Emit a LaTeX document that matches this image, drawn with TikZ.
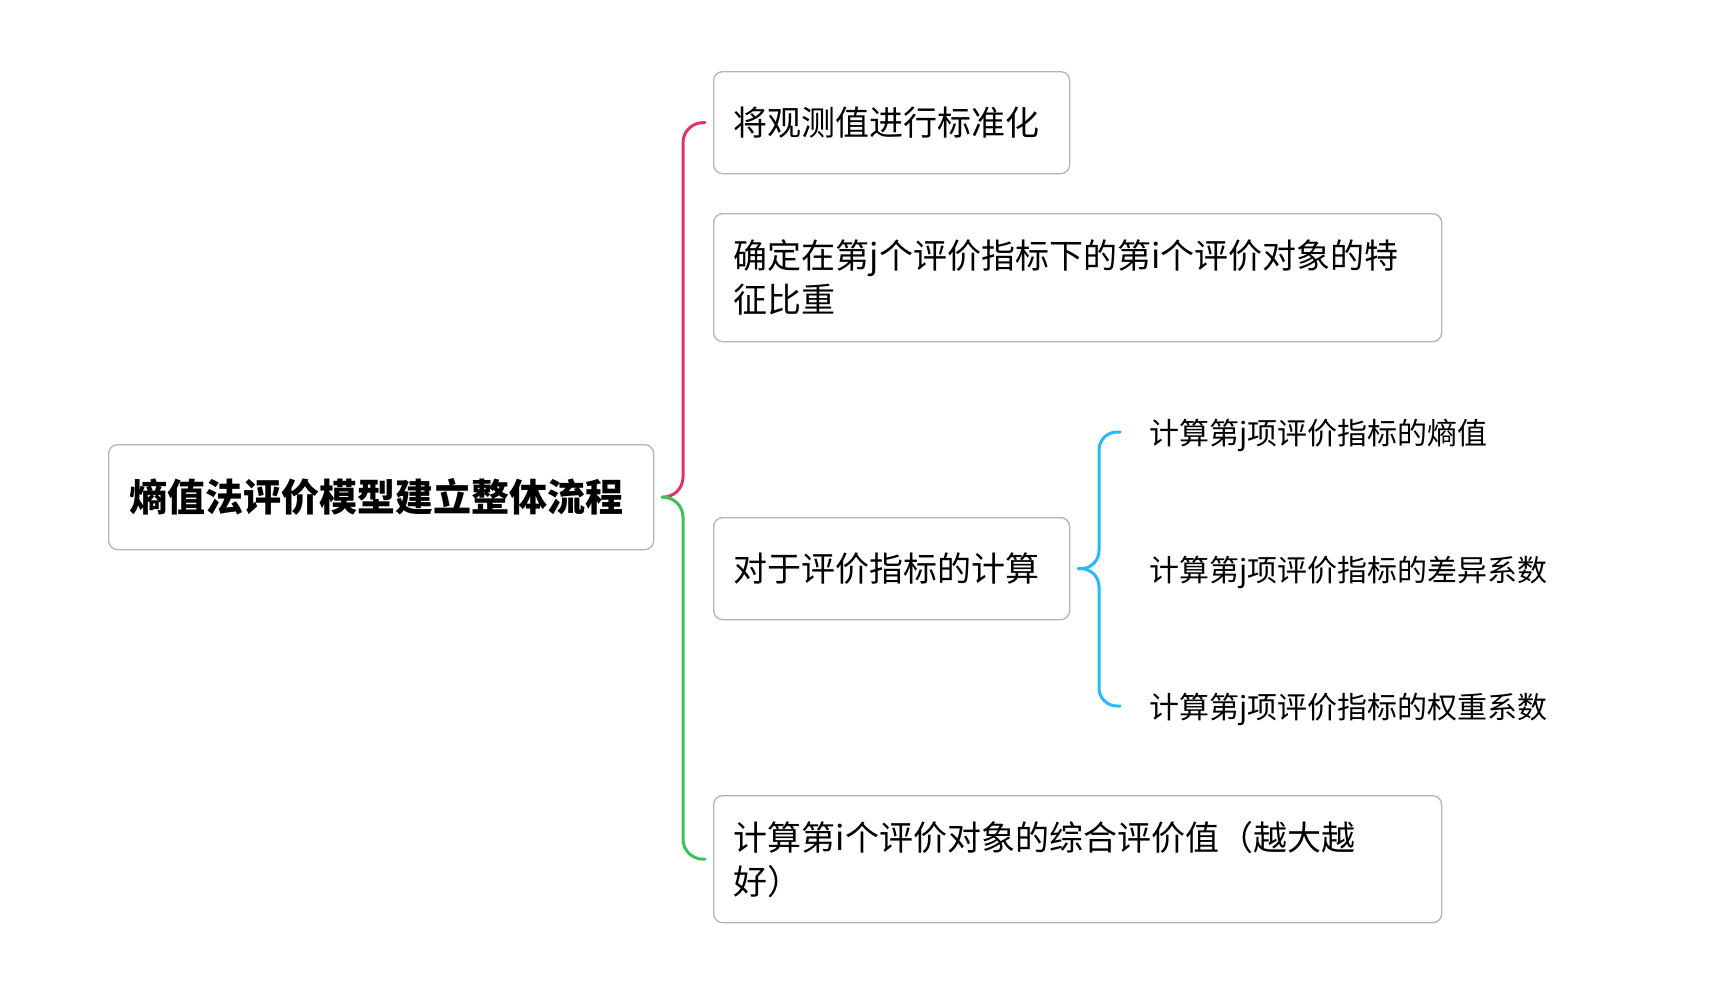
\documentclass[tikz,border=0pt]{standalone}
\usepackage{fontspec}
\usetikzlibrary{calc}
\newfontfamily\cjk{Noto Sans CJK SC}
\definecolor{pinkc}{RGB}{221,52,110}
\definecolor{greenc}{RGB}{58,196,88}
\definecolor{bluec}{RGB}{40,186,245}
\definecolor{boxc}{RGB}{180,180,180}
\tikzset{
  box/.style={draw=boxc, line width=1.3pt, rounded corners=9pt, fill=white, anchor=north west,
    inner xsep=20pt, inner ysep=0pt, align=left, font=\cjk\fontsize{34}{44}\selectfont},
  rootbox/.style={box, inner xsep=21pt, font=\cjk\bfseries\fontsize{38}{46}\selectfont},
  leaf/.style={anchor=west, inner sep=0pt, font=\cjk\fontsize{30}{36}\selectfont},
  conn/.style={line width=3pt, rounded corners=20pt, line cap=round}
}
\begin{document}
\begin{tikzpicture}[x=1pt,y=-1pt]
\useasboundingbox (0,0) rectangle (1735,994);
\fill[white] (0,0) rectangle (1735,994);
\node[rootbox, minimum width=545pt, minimum height=105pt, text width=503pt] (root) at (108,444) {熵值法评价模型建立整体流程};
\node[box, minimum width=356pt, minimum height=102pt, text width=316pt] (b1) at (713,71) {将观测值进行标准化};
\node[box, minimum width=728pt, minimum height=128pt, text width=688pt] (b2) at (713,213) {确定在第j个评价指标下的第i个评价对象的特\\征比重};
\node[box, minimum width=356pt, minimum height=102pt, text width=316pt] (b3) at (713,517) {对于评价指标的计算};
\node[box, minimum width=728pt, minimum height=127pt, text width=688pt] (b4) at (713,795) {计算第i个评价对象的综合评价值（越大越\\好）};
\node[leaf] (l1) at (1149,435) {计算第j项评价指标的熵值};
\node[leaf] (l2) at (1149,572) {计算第j项评价指标的差异系数};
\node[leaf] (l3) at (1149,709) {计算第j项评价指标的权重系数};
\draw[conn, pinkc] ($(root.east)+(8,0)$) -| ($(b1.west)+(-30,0)$) -- ($(b1.west)+(-8,0)$);
\draw[conn, greenc] ($(root.east)+(8,0)$) -| ($(b4.west)+(-30,0)$) -- ($(b4.west)+(-8,0)$);
\draw[conn, bluec, rounded corners=18pt] ($(b3.east)+(8,0)$) -| ($(l1.west)+(-50,-3)$) -- ($(l1.west)+(-29,-3)$);
\draw[conn, bluec, rounded corners=18pt] ($(b3.east)+(8,0)$) -| ($(l3.west)+(-50,-3)$) -- ($(l3.west)+(-29,-3)$);
\end{tikzpicture}
\end{document}
